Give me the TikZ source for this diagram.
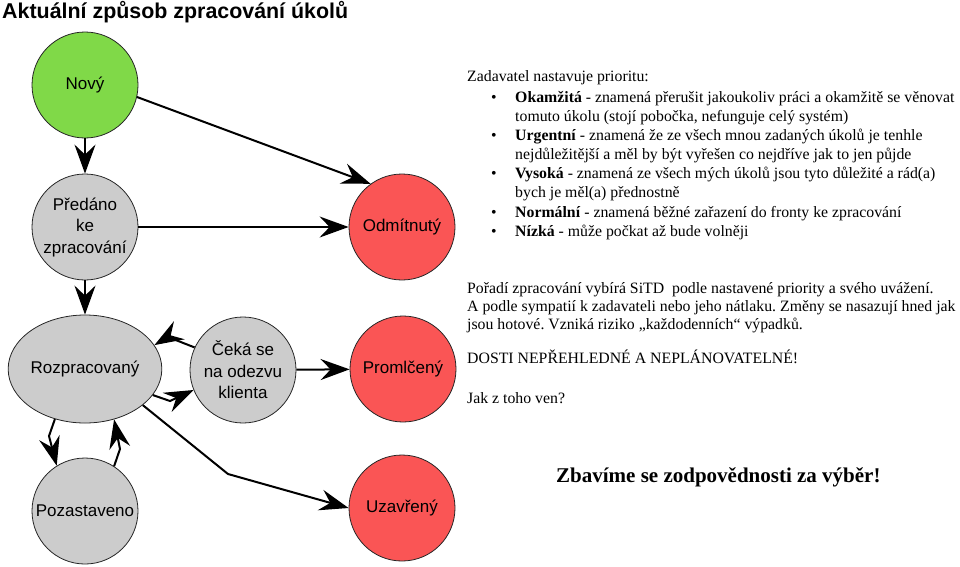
\documentclass[tikz,border=0pt]{standalone}
\usepackage{fontspec}
\setmainfont{Liberation Serif}
\setsansfont{Liberation Sans}
\usetikzlibrary{arrows.meta,shapes.geometric}
\definecolor{novgreen}{RGB}{128,217,72}
\definecolor{redst}{RGB}{250,85,85}
\definecolor{greyst}{RGB}{204,204,204}
\frenchspacing
\begin{document}
\frenchspacing
\begin{tikzpicture}[x=1pt,y=-1pt,
  state/.style={circle, draw=black!85, line width=0.8pt, minimum size=106pt, inner sep=0pt,
    font=\sffamily\fontsize{17}{21.5}\selectfont, align=center},
  grey/.style={state, fill=greyst},
  red/.style={state, fill=redst},
  edge/.style={line width=2pt, -{Stealth[length=29pt 0 0,width=21pt 0 0,inset=10pt 0]}},
  body/.style={anchor=base west, inner sep=0pt, font=\fontsize{15.8}{19.3}\selectfont},
  bodyb/.style={anchor=base west, inner sep=0pt, font=\fontsize{15.8}{19}\selectfont},
]
\useasboundingbox (0,0) rectangle (960,566);

% title
\node[anchor=base west, inner sep=0pt, font=\sffamily\bfseries\fontsize{21.4}{25}\selectfont] (title) at (2,18) {Aktuální způsob zpracování úkolů};

% states
\node[state, fill=novgreen] (nov) at (85,85) {Nový};
\node[grey] (pred) at (85,227) {Předáno\\ke\\zpracování};
\node[red] (odm) at (402,227) {Odmítnutý};
\node[ellipse, draw=black!85, line width=0.8pt, fill=greyst, minimum width=126pt, minimum height=108pt, inner sep=0pt,
  font=\sffamily\fontsize{17}{21.5}\selectfont] (roz) at (85,369) {Rozpracovaný};
\node[grey] (cek) at (243,370) {Čeká se\\na odezvu\\klienta};
\node[red] (pro) at (403,369) {Promlčený};
\node[grey] (poz) at (85,511) {Pozastaveno};
\node[red] (uza) at (402,508) {Uzavřený};

% bend points
\coordinate (b1) at (170,401);
\coordinate (b2) at (168,337);
\coordinate (b3) at (228,474);
\coordinate (b4) at (49,436);
\coordinate (b5) at (120,449);

% edges
\draw[edge] (nov) -- (pred);
\draw[edge] (nov.-13) -- (odm.126);
\draw[edge] (pred) -- (odm);
\draw[edge] (pred) -- (roz);
\draw[edge] (roz.-21) -- (b1) -- (cek.-158);
\draw[edge] (cek.155) -- (b2) -- (roz.19);
\draw[edge] (cek) -- (pro);
\draw[edge] (roz.-32) -- (b3) -- (uza.180);
\draw[edge] (roz.-121) -- (b4) -- (poz.122);
\draw[edge] (poz.57) -- (b5) -- (roz.-60);

% text block 1
\node[body] (t0) at (467,81) {Zadavatel nastavuje prioritu:};
\node[body] (u1) at (491,102) {•};
\node[body] (t1) at (515,102) {\textbf{Okamžitá} - znamená přerušit jakoukoliv práci a okamžitě se věnovat};
\node[body] (t2) at (515,121) {tomuto úkolu (stojí pobočka, nefunguje celý systém)};
\node[body] (u2) at (491,140) {•};
\node[body] (t3) at (515,140) {\textbf{Urgentní} - znamená že ze všech mnou zadaných úkolů je tenhle};
\node[body] (t4) at (515,159) {nejdůležitější a měl by být vyřešen co nejdříve jak to jen půjde};
\node[body] (u3) at (491,178) {•};
\node[body] (t5) at (515,178) {\textbf{Vysoká} - znamená ze všech mých úkolů jsou tyto důležité a rád(a)};
\node[body] (t6) at (515,197) {bych je měl(a) přednostně};
\node[body] (u4) at (491,217) {•};
\node[body] (t7) at (515,217) {\textbf{Normální} - znamená běžné zařazení do fronty ke zpracování};
\node[body] (u5) at (491,236) {•};
\node[body] (t8) at (515,236) {\textbf{Nízká} - může počkat až bude volněji};

% text block 2
\node[bodyb] (s1) at (467,293) {Pořadí zpracování vybírá SiTD\ \ podle nastavené priority a svého uvážení.};
\node[bodyb] (s2) at (467,311) {A podle sympatií k zadavateli nebo jeho nátlaku. Změny se nasazují hned jak};
\node[bodyb] (s3) at (467,329) {jsou hotové. Vzniká riziko „každodenních“ výpadků.};
\node[bodyb] (s4) at (467,363) {DOSTI NEPŘEHLEDNÉ A NEPLÁNOVATELNÉ!};
\node[bodyb] (s5) at (467,403) {Jak z toho ven?};

% conclusion
\node[anchor=base west, inner sep=0pt, font=\bfseries\fontsize{21}{25}\selectfont] (concl) at (556,482) {Zbavíme se zodpovědnosti za výběr!};
\end{tikzpicture}
\end{document}
